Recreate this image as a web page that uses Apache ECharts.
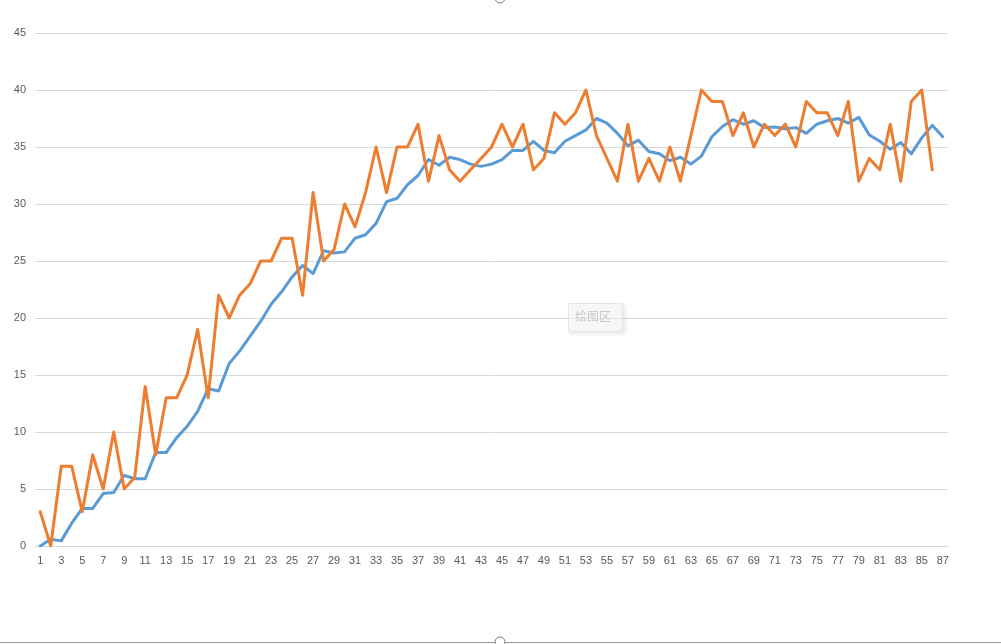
<!DOCTYPE html>
<html>
<head>
<meta charset="utf-8">
<script src="https://cdn.jsdelivr.net/npm/echarts@6/dist/echarts.min.js"></script>
<style>
html,body{margin:0;padding:0;background:#fff;}
#chart{width:1001px;height:644px;}
</style>
</head>
<body>
<div id="chart"></div>
<script>
const categories = [];
for (let i = 1; i <= 87; i++) categories.push(String(i));

const seriesBlue = [0,0.6,0.45,2.0,3.3,3.3,4.6,4.7,6.2,5.9,
5.9,8.2,8.2,9.5,10.5,11.8,13.8,13.6,16.0,17.1,
18.4,19.7,21.2,22.3,23.6,24.6,23.9,25.9,25.7,25.8,
27.0,27.3,28.3,30.2,30.5,31.7,32.5,33.9,33.4,34.1,
33.9,33.5,33.3,33.5,33.9,34.7,34.7,35.5,34.7,34.5,
35.5,36.0,36.5,37.5,37.1,36.2,35.1,35.6,34.6,34.4,
33.8,34.1,33.5,34.2,35.9,36.8,37.4,37.0,37.3,36.7,
36.75,36.6,36.7,36.2,37.0,37.3,37.5,37.1,37.6,36.05,
35.5,34.8,35.4,34.4,35.8,36.9,35.9];

const seriesOrange = [3,0,7,7,3,8,5,10,5,6,
14,8,13,13,15,19,13,22,20,22,
23,25,25,27,27,22,31,25,26,30,
28,31,35,31,35,35,37,32,36,33,
32,33,34,35,37,35,37,33,34,38,
37,38,40,36,34,32,37,32,34,32,
35,32,36,40,39,39,36,38,35,37,
36,37,35,39,38,38,36,39,32,34,
33,37,32,39,40,33,null];

const yTicks = {min:0, max:45, interval:5};
const plotAreaLabel = '绘图区';

const chart = echarts.init(document.getElementById('chart'), null, {renderer:'canvas'});
const font = '"Liberation Sans", Arial, sans-serif';
chart.setOption({
  animation:false,
  backgroundColor:'#ffffff',
  grid:{left:35, right:53, top:33, bottom:98, containLabel:false},
  xAxis:{
    type:'category',
    data:categories,
    boundaryGap:true,
    axisLine:{show:true, lineStyle:{color:'#D9D9D9', width:1}},
    axisTick:{show:false},
    axisLabel:{interval:1, color:'#595959', fontSize:11, fontFamily:font, margin:9}
  },
  yAxis:{
    type:'value',
    min:yTicks.min, max:yTicks.max, interval:yTicks.interval,
    axisLine:{show:false},
    axisTick:{show:false},
    splitLine:{show:true, lineStyle:{color:'#D9D9D9', width:1}},
    axisLabel:{color:'#595959', fontSize:11, fontFamily:font, margin:9}
  },
  series:[
    {type:'line', data:seriesBlue, showSymbol:false, symbol:'none',
     lineStyle:{color:'#5B9BD5', width:3, join:'round', cap:'round'}, itemStyle:{color:'#5B9BD5'}, z:2},
    {type:'line', data:seriesOrange, showSymbol:false, symbol:'none',
     lineStyle:{color:'#ED7D31', width:3, join:'round', cap:'round'}, itemStyle:{color:'#ED7D31'}, z:3}
  ],
  graphic:[
    {type:'rect', left:568, top:303, z:100,
     shape:{width:54, height:28},
     style:{fill:'rgba(255,255,255,0.55)', stroke:'#E6E6E6', lineWidth:1,
            shadowBlur:4, shadowOffsetX:2, shadowOffsetY:2, shadowColor:'rgba(0,0,0,0.12)'}},
    {type:'text', left:575, top:310, z:101,
     style:{text:plotAreaLabel, fill:'#C9C9C9', fontSize:12, fontFamily:'"Noto Sans CJK SC", sans-serif'}},
    {type:'circle', shape:{cx:500, cy:-2, r:5}, z:100,
     style:{fill:'#fff', stroke:'#7F7F7F', lineWidth:1}},
    {type:'line', shape:{x1:0, y1:642.5, x2:1001, y2:642.5}, z:99,
     style:{stroke:'#9A9A9A', lineWidth:1}},
    {type:'circle', shape:{cx:500, cy:642, r:5}, z:100,
     style:{fill:'#fff', stroke:'#7F7F7F', lineWidth:1}}
  ]
});
</script>
</body>
</html>
